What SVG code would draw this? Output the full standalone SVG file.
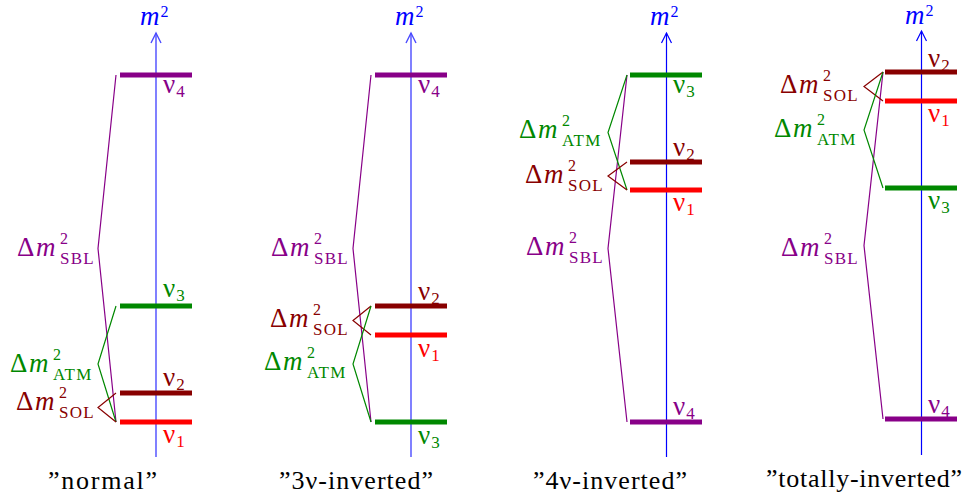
<svg xmlns="http://www.w3.org/2000/svg" width="966" height="500" viewBox="0 0 966 500" font-family="'Liberation Serif', 'Times New Roman', serif">
<style>
text{font-family:'Liberation Serif','Times New Roman',serif;font-size:27px}
.it{font-style:italic}
.sm{font-size:17px}
.sup{font-size:16px}
.sub{font-size:17px;letter-spacing:1.2px}
.ttl{font-size:26px;fill:#000}
.axis{stroke:#0000ff;stroke-width:1.2;fill:none}
.ax2{stroke:#4b4bff;stroke-width:1.4;fill:none}
.bar{stroke-width:5}
.br{fill:none;stroke-width:1.2}
.pu{fill:#880088}.gr{fill:#008800}.dr{fill:#880000}.rd{fill:#ff0000}.bl{fill:#0000ff}
.spu{stroke:#880088}.sgr{stroke:#008800}.sdr{stroke:#880000}.srd{stroke:#ff0000}
</style>
<defs>
<g id="ax"><polyline points="-5,43 0,33 5,43"/><line x1="0" y1="33" x2="0" y2="457"/></g>
</defs>

<!-- axes -->
<g id="axes">
<g class="ax2" transform="translate(156,0)"><use href="#ax"/></g>
<g class="ax2" transform="translate(411,0)"><use href="#ax"/></g>
<g class="axis" transform="translate(666.5,0)"><use href="#ax"/></g>
<g class="axis" transform="translate(921.5,-2)"><use href="#ax"/></g>
<text class="bl" x="140" y="25"><tspan class="it">m</tspan><tspan class="sup" dx="1" dy="-8">2</tspan></text>
<text class="bl" x="395" y="25"><tspan class="it">m</tspan><tspan class="sup" dx="1" dy="-8">2</tspan></text>
<text class="bl" x="650" y="25"><tspan class="it">m</tspan><tspan class="sup" dx="1" dy="-8">2</tspan></text>
<text class="bl" x="905" y="24"><tspan class="it">m</tspan><tspan class="sup" dx="1" dy="-8">2</tspan></text>
</g>

<!-- connectors (brackets) -->
<g id="connectors" class="br">
<polyline class="spu" points="116,75 98,248.5 116,422"/>
<polyline class="sgr" points="116,306 98,364 116,422"/>
<polyline class="sdr" points="116,393 98,407.5 116,422"/>

<polyline class="spu" points="371,75 353,248.5 371,422"/>
<polyline class="sdr" points="371,306 353,320.5 371,335"/>
<polyline class="sgr" points="371,306 353,364 371,422"/>

<polyline class="spu" points="627,75 608,248.5 627,422"/>
<polyline class="sgr" points="627,75 608,132.5 627,190"/>
<polyline class="sdr" points="627,162 608,176 627,190"/>

<polyline class="spu" points="883,72 864,245.5 883,419"/>
<polyline class="sdr" points="883,72 864,86.5 883,101"/>
<polyline class="sgr" points="883,72 864,130 883,188"/>
</g>

<!-- panel 1: normal -->
<g id="p1-nu4"><line class="bar spu" x1="120" y1="75" x2="192" y2="75"/><text class="pu" x="163" y="93">ν<tspan class="sm" dx="1" dy="4">4</tspan></text></g>
<g id="p1-nu3"><line class="bar sgr" x1="120" y1="306" x2="192" y2="306"/><text class="gr" x="163" y="297">ν<tspan class="sm" dx="1" dy="4">3</tspan></text></g>
<g id="p1-nu2"><line class="bar sdr" x1="120" y1="393" x2="192" y2="393"/><text class="dr" x="163" y="386">ν<tspan class="sm" dx="1" dy="4">2</tspan></text></g>
<g id="p1-nu1"><line class="bar srd" x1="120" y1="422" x2="192" y2="422"/><text class="rd" x="163" y="443">ν<tspan class="sm" dx="1" dy="4">1</tspan></text></g>
<g id="p1-sbl"><text class="pu" transform="translate(95,256)"><tspan x="-78">Δ</tspan><tspan class="it" x="-59">m</tspan><tspan class="sup" x="-35" dy="-12">2</tspan><tspan class="sub" x="-35" dy="20">SBL</tspan></text></g>
<g id="p1-atm"><text class="gr" transform="translate(95,372)"><tspan x="-85">Δ</tspan><tspan class="it" x="-66">m</tspan><tspan class="sup" x="-42" dy="-12">2</tspan><tspan class="sub" x="-42" dy="20">ATM</tspan></text></g>
<g id="p1-sol"><text class="dr" transform="translate(95,410)"><tspan x="-79">Δ</tspan><tspan class="it" x="-60">m</tspan><tspan class="sup" x="-36" dy="-12">2</tspan><tspan class="sub" x="-36" dy="20">SOL</tspan></text></g>
<text id="p1-title" class="ttl" x="102.5" y="489" text-anchor="middle" textLength="109" lengthAdjust="spacing">”normal”</text>

<!-- panel 2: 3nu-inverted -->
<g id="p2-nu4"><line class="bar spu" x1="375" y1="75" x2="447" y2="75"/><text class="pu" x="418" y="93">ν<tspan class="sm" dx="1" dy="4">4</tspan></text></g>
<g id="p2-nu2"><line class="bar sdr" x1="375" y1="306" x2="447" y2="306"/><text class="dr" x="418" y="300">ν<tspan class="sm" dx="1" dy="4">2</tspan></text></g>
<g id="p2-nu1"><line class="bar srd" x1="375" y1="335" x2="447" y2="335"/><text class="rd" x="418" y="357">ν<tspan class="sm" dx="1" dy="4">1</tspan></text></g>
<g id="p2-nu3"><line class="bar sgr" x1="375" y1="422" x2="447" y2="422"/><text class="gr" x="418" y="444">ν<tspan class="sm" dx="1" dy="4">3</tspan></text></g>
<g id="p2-sbl"><text class="pu" transform="translate(349,256)"><tspan x="-78">Δ</tspan><tspan class="it" x="-59">m</tspan><tspan class="sup" x="-35" dy="-12">2</tspan><tspan class="sub" x="-35" dy="20">SBL</tspan></text></g>
<g id="p2-sol"><text class="dr" transform="translate(349,327)"><tspan x="-79">Δ</tspan><tspan class="it" x="-60">m</tspan><tspan class="sup" x="-36" dy="-12">2</tspan><tspan class="sub" x="-36" dy="20">SOL</tspan></text></g>
<g id="p2-atm"><text class="gr" transform="translate(349,370)"><tspan x="-85">Δ</tspan><tspan class="it" x="-66">m</tspan><tspan class="sup" x="-42" dy="-12">2</tspan><tspan class="sub" x="-42" dy="20">ATM</tspan></text></g>
<text id="p2-title" class="ttl" x="356" y="489" text-anchor="middle" textLength="154" lengthAdjust="spacing">”3ν-inverted”</text>

<!-- panel 3: 4nu-inverted -->
<g id="p3-nu3"><line class="bar sgr" x1="630" y1="75" x2="702" y2="75"/><text class="gr" x="673" y="93">ν<tspan class="sm" dx="1" dy="4">3</tspan></text></g>
<g id="p3-nu2"><line class="bar sdr" x1="630" y1="162" x2="702" y2="162"/><text class="dr" x="673" y="156">ν<tspan class="sm" dx="1" dy="4">2</tspan></text></g>
<g id="p3-nu1"><line class="bar srd" x1="630" y1="190" x2="702" y2="190"/><text class="rd" x="673" y="211">ν<tspan class="sm" dx="1" dy="4">1</tspan></text></g>
<g id="p3-nu4"><line class="bar spu" x1="630" y1="422" x2="702" y2="422"/><text class="pu" x="673" y="415">ν<tspan class="sm" dx="1" dy="4">4</tspan></text></g>
<g id="p3-atm"><text class="gr" transform="translate(604,138)"><tspan x="-85">Δ</tspan><tspan class="it" x="-66">m</tspan><tspan class="sup" x="-42" dy="-12">2</tspan><tspan class="sub" x="-42" dy="20">ATM</tspan></text></g>
<g id="p3-sol"><text class="dr" transform="translate(604,183)"><tspan x="-79">Δ</tspan><tspan class="it" x="-60">m</tspan><tspan class="sup" x="-36" dy="-12">2</tspan><tspan class="sub" x="-36" dy="20">SOL</tspan></text></g>
<g id="p3-sbl"><text class="pu" transform="translate(604,255)"><tspan x="-78">Δ</tspan><tspan class="it" x="-59">m</tspan><tspan class="sup" x="-35" dy="-12">2</tspan><tspan class="sub" x="-35" dy="20">SBL</tspan></text></g>
<text id="p3-title" class="ttl" x="610" y="489" text-anchor="middle" textLength="154" lengthAdjust="spacing">”4ν-inverted”</text>

<!-- panel 4: totally-inverted -->
<g id="p4-nu2"><line class="bar sdr" x1="885" y1="72" x2="957" y2="72"/><text class="dr" x="928" y="67">ν<tspan class="sm" dx="1" dy="4">2</tspan></text></g>
<g id="p4-nu1"><line class="bar srd" x1="885" y1="101" x2="957" y2="101"/><text class="rd" x="928" y="122">ν<tspan class="sm" dx="1" dy="4">1</tspan></text></g>
<g id="p4-nu3"><line class="bar sgr" x1="885" y1="188" x2="957" y2="188"/><text class="gr" x="928" y="209">ν<tspan class="sm" dx="1" dy="4">3</tspan></text></g>
<g id="p4-nu4"><line class="bar spu" x1="885" y1="419" x2="957" y2="419"/><text class="pu" x="928" y="413">ν<tspan class="sm" dx="1" dy="4">4</tspan></text></g>
<g id="p4-sol"><text class="dr" transform="translate(859,93)"><tspan x="-79">Δ</tspan><tspan class="it" x="-60">m</tspan><tspan class="sup" x="-36" dy="-12">2</tspan><tspan class="sub" x="-36" dy="20">SOL</tspan></text></g>
<g id="p4-atm"><text class="gr" transform="translate(859,137)"><tspan x="-85">Δ</tspan><tspan class="it" x="-66">m</tspan><tspan class="sup" x="-42" dy="-12">2</tspan><tspan class="sub" x="-42" dy="20">ATM</tspan></text></g>
<g id="p4-sbl"><text class="pu" transform="translate(859,256)"><tspan x="-78">Δ</tspan><tspan class="it" x="-59">m</tspan><tspan class="sup" x="-35" dy="-12">2</tspan><tspan class="sub" x="-35" dy="20">SBL</tspan></text></g>
<text id="p4-title" class="ttl" x="864" y="487" text-anchor="middle" textLength="196" lengthAdjust="spacing">”totally-inverted”</text>
</svg>
